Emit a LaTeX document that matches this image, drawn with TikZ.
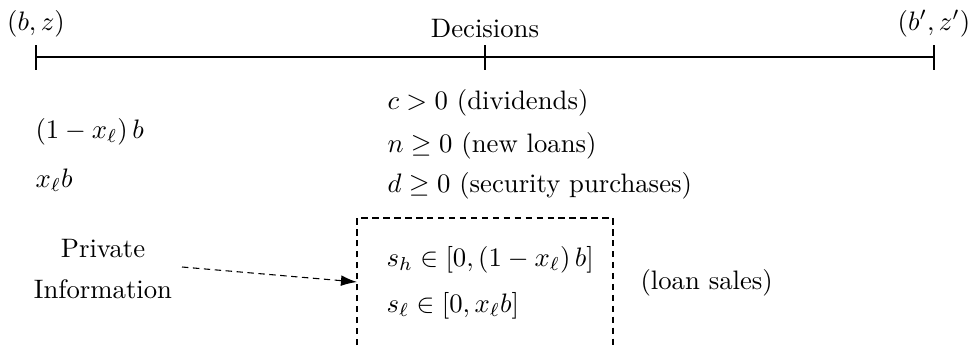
\documentclass[tikz,border=0pt]{standalone}
\usepackage{amssymb}
\usetikzlibrary{arrows.meta}
\begin{document}
\begin{tikzpicture}[x=0.3745pt,y=-0.3745pt,
  lbl/.style={inner sep=0pt,anchor=west},
  dsh/.style={dash pattern=on 2.4pt off 1.7pt},
  infoarrow/.style={dsh,-{Latex[length=6pt,width=4pt]}}]
\useasboundingbox (0,0) rectangle (969,345);
% time line
\coordinate (t0) at (36,57);
\coordinate (t1) at (485,57);
\coordinate (t2) at (934,57);
\draw[line width=0.5pt] (t0) -- (t2);
\foreach \x in {36,485,934} \draw (\x,45) -- (\x,70);
\node[anchor=base] (st) at (36,30) {$(b,z)$};
\node[anchor=base] (dec) at (485,37) {Decisions};
\node[anchor=base] (nx) at (934,30) {$(b',z')$};
% state variables
\node[lbl] (xh) at (35,132) {$(1-x_\ell)\,b$};
\node[lbl] (xl) at (35,180) {$x_\ell b$};
% decisions
\node[lbl] (c) at (387,103) {$c>0$ (dividends)};
\node[lbl] (n) at (387,146) {$n\geq 0$ (new loans)};
\node[lbl] (d) at (387,186) {$d\geq 0$ (security purchases)};
% private information
\node[align=center,inner sep=0pt] (pi) at (103,269) {Private\\[3.5pt]Information};
% loan sales box
\coordinate (bl) at (357,345);
\coordinate (tl) at (357,218);
\coordinate (tr) at (613,218);
\coordinate (br) at (613,345);
\draw[dsh] (bl) -- (tl) -- (tr) -- (br);
\node[lbl] (sh) at (386,260) {$s_h\in[0,(1-x_\ell)\,b]$};
\node[lbl] (sl) at (386,306) {$s_\ell\in[0,x_\ell b]$};
\node[lbl] (ls) at (640,283) {(loan sales)};
\coordinate (src) at (182,267);
\coordinate (ain) at (357,282);
\draw[infoarrow] (src) -- (ain);
\end{tikzpicture}
\end{document}
